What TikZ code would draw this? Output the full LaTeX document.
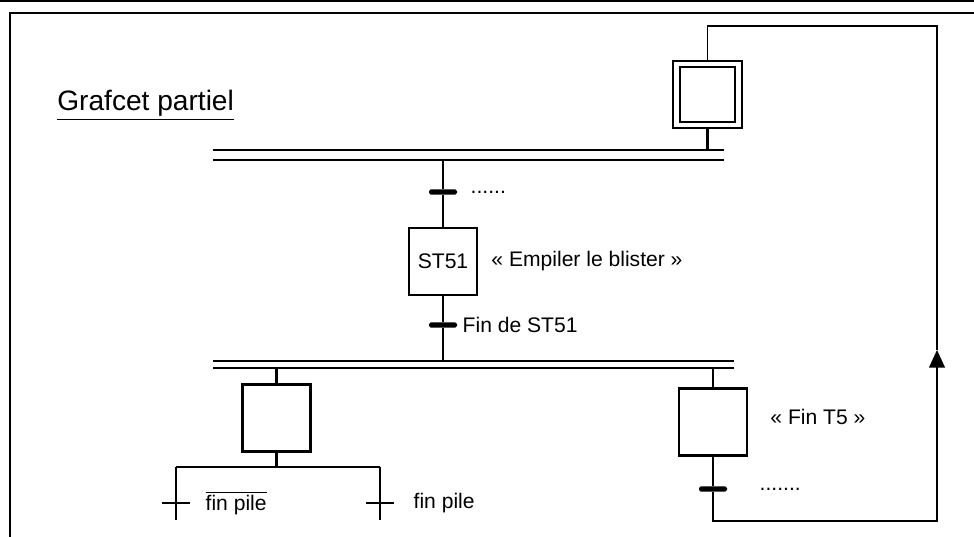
\documentclass[tikz,border=0pt]{standalone}
\usepackage{fontspec}
\setmainfont{Liberation Sans}
\usepackage{tikz}
\usetikzlibrary{arrows.meta, positioning}

\newcommand{\nonvar}[1]{$\overline{\mbox{#1}}$}

\begin{document}
\begin{tikzpicture}[
    x=0.02cm, y=-0.02cm,
    node distance=0.26cm,
    stepbox/.style={rectangle, draw, line width=1.3pt, minimum width=1.36cm, minimum height=1.34cm, inner sep=0pt, font=\fontsize{12}{14}\selectfont},
    initbox/.style={rectangle, draw, line width=1pt, minimum width=1.38cm, minimum height=1.34cm, inner sep=0pt},
    trans/.style={rectangle, fill=black, rounded corners=1pt, minimum width=0.56cm, minimum height=3pt, inner sep=0pt},
    thintrans/.style={rectangle, fill=black, minimum width=0.56cm, minimum height=1.3pt, inner sep=0pt},
    lbl/.style={inner sep=0pt, font=\fontsize{12}{14}\selectfont},
    link/.style={line width=1.3pt},
    dbar/.style={line width=1.2pt, double distance=#1},
    back/.style={line width=0.9pt},
]
    \useasboundingbox (0,0) rectangle (974,537);

    % page edge and frame
    \draw[line width=0.6pt] (0,1) -- (974,1);
    \draw[line width=1pt] (974,13) -- (10,13) -- (10,537);

    \node[anchor=base west, inner sep=0pt, font=\fontsize{16}{19}\selectfont] (title) at (57,111) {\underline{Grafcet partiel}};

    % steps and transitions
    \node[initbox] (s0o) at (707.5,94.5) {};
    \node[initbox, minimum width=1.1cm, minimum height=1.1cm] (s0) at (s0o) {};
    \coordinate (b1w) at (213,155);
    \coordinate (b1e) at (724,155);
    \node[trans] (t1) at (443,192) {};
    \node[stepbox] (s51) at (443,261.5) {ST51};
    \node[trans] (t2) at (443,325) {};
    \coordinate (b2w) at (213,364.5);
    \coordinate (b2e) at (734,364.5);
    \node[stepbox] (sA) at (276.5,418) {};
    \node[stepbox] (sT5) at (713,422) {};
    \node[trans] (t5) at (713,489) {};
    \coordinate (fl) at (176,467);
    \coordinate (fr) at (380,467);
    \node[thintrans] (tl) at (176,503) {};
    \node[thintrans] (tr) at (380,503) {};
    \coordinate (el) at (176,520);
    \coordinate (er) at (380,520);
    \coordinate (lb) at (937,521);
    \coordinate (la) at (937,350);
    \coordinate (lt) at (937,26);

    % labels
    \node[lbl, right=0.26cm of t1] (d1) {......};
    \node[lbl, right=0.26cm of s51] (a51) {«~Empiler le blister~»};
    \node[lbl, right=0.1cm of t2] (r2) {Fin de ST51};
    \node[lbl, right=0.3cm of tl] (rl) {\nonvar{fin pile}};
    \node[lbl, right=0.38cm of tr] (rr) {fin pile};
    \node[lbl, right=0.44cm of sT5, yshift=3pt] (aT5) {«~Fin T5~»};
    \node[lbl, right=0.64cm of t5] (d5) {.......};

    % links
    \draw[link] (s0o.south) -- (s0o.south |- b1w);
    \draw[link] (t1 |- b1w) -- (t1) -- (s51.north);
    \draw[link] (s51.south) -- (t2) -- (t2 |- b2w);
    \draw[link] (sA.north |- b2w) -- (sA.north);
    \draw[link] (sT5.north |- b2w) -- (sT5.north);
    \draw[link] (sA.south) -- (sA.south |- fl);
    \draw[link] (fl) -- (fr);
    \draw[link] (fl) -- (tl) -- (el);
    \draw[link] (fr) -- (tr) -- (er);
    \draw[link] (sT5.south) -- (t5);
    \draw[back, -{Triangle[length=10pt, width=9pt]}] (t5) |- (lb) -- (la);
    \draw[back] (la) -- (lt) -| (s0o.north);

    % double bars
    \draw[dbar=4.5pt] (b1w) -- (b1e);
    \draw[dbar=3pt] (b2w) -- (b2e);
\end{tikzpicture}
\end{document}
